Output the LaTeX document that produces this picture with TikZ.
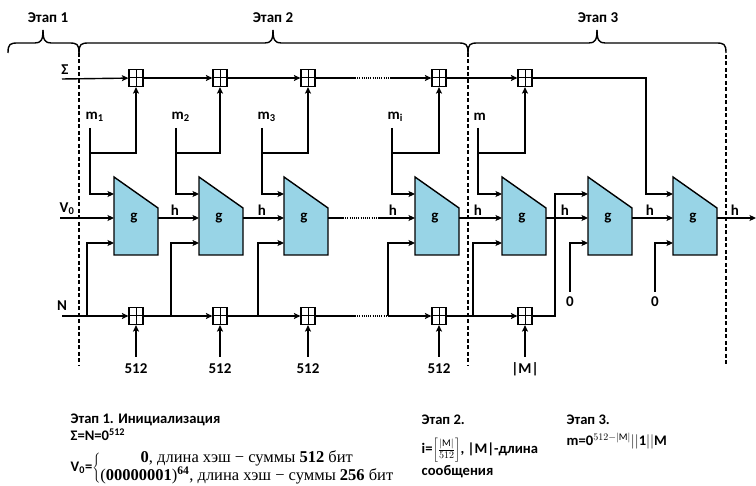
\documentclass[tikz,border=0pt]{standalone}
\usepackage{fontspec}
\setmainfont{Carlito}
\newfontfamily\serifcyr{Liberation Serif}
\usetikzlibrary{arrows.meta,calc}
\definecolor{gblue}{RGB}{152,212,230}
\begin{document}
\begin{tikzpicture}[x=1pt,y=-1pt,
  line width=1.4pt,
  arr/.style={-{Stealth[length=6.5pt,width=6pt,inset=1.5pt]}},
  lbl/.style={font=\bfseries\fontsize{15}{17}\selectfont, inner sep=0pt},
  txt/.style={font=\bfseries\fontsize{14.6}{17}\selectfont, inner sep=0pt, anchor=west},
  adder/.style={draw, line width=1.2pt, minimum width=14pt, minimum height=17pt, inner sep=0pt,
    path picture={\draw[line width=1pt] (path picture bounding box.north) -- (path picture bounding box.south)
      (path picture bounding box.west) -- (path picture bounding box.east);}},
  stagesep/.style={line width=1.1pt, dash pattern=on 4pt off 2.5pt},
  dotline/.style={line width=1.1pt, dash pattern=on 1pt off 1.2pt},
  bracestyle/.style={line width=1.4pt}
]
\useasboundingbox (0,0) rectangle (756,486);

% stage labels and braces
\node[lbl] (e1) at (48,18) {Этап 1};
\node[lbl] (e2) at (273,18) {Этап 2};
\node[lbl] (e3) at (598,18) {Этап 3};
\foreach \a/\m/\b in {8/43/79, 79/273/468, 468/597/726}{
  \draw[bracestyle] (\a,53) .. controls (\a,44) and (\a+2,43) .. (\a+10,43) -- (\m-8,43)
    .. controls (\m-2,43) and (\m,40) .. (\m,30);
  \draw[bracestyle] (\b,53) .. controls (\b,44) and (\b-2,43) .. (\b-10,43) -- (\m+8,43)
    .. controls (\m+2,43) and (\m,40) .. (\m,30);
}
% stage separators
\draw[stagesep] (79,53) -- (79,366);
\draw[stagesep] (468,53) -- (468,366);
\draw[stagesep] (726,55) -- (726,366);

% g blocks
\foreach \k/\L in {1/114, 2/199, 3/284, 4/415, 5/502, 6/588, 7/673}{
  \filldraw[fill=gblue, line width=1.4pt] (\L,177) -- (\L+44,208) -- (\L+44,255) -- (\L,255) -- cycle;
  \node[lbl] (g\k) at (\L+20,218) {g};
  \coordinate (g\k-a) at (\L,194);
  \coordinate (g\k-b) at (\L,218);
  \coordinate (g\k-c) at (\L,243);
  \coordinate (g\k-o) at (\L+44,218);
}

% adders
\foreach \k/\X in {1/136, 2/220, 3/308, 4/439, 5/525}{
  \node[adder] (s\k) at (\X,78) {};
  \node[adder] (n\k) at (\X,316) {};
}

% input labels
\node[lbl] (sig) at (65,70) {Σ};
\node[lbl] (v0) at (67,209) {V\textsubscript{0}};
\node[lbl] (nn) at (62,306) {N};
\coordinate (sigstart) at (62,79);
\coordinate (v0start) at (60,218);
\coordinate (nstart) at (62,316);

% Sigma line
\draw[arr] (sigstart) -- (s1);
\draw[arr] (s1) -- (s2);
\draw[arr] (s2) -- (s3);
\coordinate (sd1) at (355,78);
\coordinate (sd2) at (391,78);
\draw (s3.east) -- (sd1);
\draw[dotline] (sd1) -- (sd2);
\draw[arr] (sd2) -- (s4);
\draw[arr] (s4) -- (s5);
\coordinate (sc7) at (646,78);
\draw[arr] (s5.east) -- (sc7) |- (g7-a);

% m inputs
\foreach \k/\X/\lab in {1/90/m\textsubscript{1}, 2/176/m\textsubscript{2}, 3/262/m\textsubscript{3}, 4/392/m\textsubscript{i}, 5/478/m}{
  \node[lbl, anchor=west] (m\k) at (\X-5,117) {\lab};
  \coordinate (mt\k) at (\X,128);
  \coordinate (mb\k) at (\X,153);
  \draw[arr] (mt\k) |- (g\k-a);
  \draw[arr] (mb\k) -| (s\k.south);
}

% h chain
\draw[arr] (v0start) -- (g1-b);
\draw[arr] (g1-o) -- (g2-b);
\draw[arr] (g2-o) -- (g3-b);
\coordinate (hd1) at (343,218);
\coordinate (hd2) at (378,218);
\draw (g3-o) -- (hd1);
\draw[dotline] (hd1) -- (hd2);
\draw[arr] (hd2) -- (g4-b);
\draw[arr] (g4-o) -- (g5-b);
\draw[arr] (g5-o) -- (g6-b);
\draw[arr] (g6-o) -- (g7-b);
\coordinate (hout) at (756,218);
\draw[arr] (g7-o) -- (hout);
\foreach \X/\n in {175/1, 262/2, 393/3, 478/4, 565/5, 650/6, 735/7}{
  \node[lbl] (h\n) at (\X,210) {h};
}

% N line
\draw[arr] (nstart) -- (n1);
\draw[arr] (n1) -- (n2);
\draw[arr] (n2) -- (n3);
\coordinate (nd1) at (355,316);
\coordinate (nd2) at (388,316);
\draw (n3.east) -- (nd1);
\draw[dotline] (nd1) -- (nd2);
\draw[arr] (nd2) -- (n4);
\draw[arr] (n4) -- (n5);
\coordinate (nc6) at (555,316);
\draw[arr] (n5.east) -- (nc6) |- (g6-a);

% bottom inputs of g from N line
\foreach \k/\X in {1/87, 2/171, 3/258, 4/388, 5/473}{
  \coordinate (b\k) at (\X,316);
  \draw[arr] (b\k) |- (g\k-c);
}
% zero inputs
\node[lbl] (z6) at (570,302) {0};
\node[lbl] (z7) at (655,302) {0};
\coordinate (zt6) at (570,292);
\coordinate (zt7) at (655,292);
\draw[arr] (zt6) |- (g6-c);
\draw[arr] (zt7) |- (g7-c);

% adder inputs below N line
\foreach \k/\X/\lab in {1/136/512, 2/220/512, 3/308/512, 4/439/512, 5/525/|M|}{
  \node[lbl] (p\k) at (\X,369) {\lab};
  \coordinate (pt\k) at (\X,357);
  \draw[arr] (pt\k) -- (n\k.south);
}

% bottom text
\node[txt] (t1) at (70,420) {Этап 1. Инициализация};
\node[txt] (t2) at (70,435) {Σ=N=0\textsuperscript{512}};
\node[txt] (t3) at (70,468) {V\textsubscript{0}=$\delimiterfactor=780\left\{\renewcommand\arraystretch{0.85}\begin{array}{@{}c@{}}
  \mbox{\serifcyr\mdseries\fontsize{16.5}{18}\selectfont\textbf{0}, длина хэш − суммы \textbf{512} бит}\\
  \mbox{\serifcyr\mdseries\fontsize{16.5}{18}\selectfont(\textbf{00000001})\textsuperscript{\textbf{64}}, длина хэш − суммы \textbf{256} бит}
  \end{array}\right.$};
\node[txt] (t4) at (421,420) {Этап 2.};
\node[txt] (t5) at (421,450) {i=$\left[\frac{|\mathrm{M}|}{512}\right]$, |M|-длина};
\node[txt] (t6) at (421,472) {сообщения};
\node[txt] (t7) at (566,420) {Этап 3.};
\node[txt] (t8) at (566,441) {m=0$^{512-|\mathrm{M}|}\big|\big|\mathbf{1}\big|\big|\mathbf{M}$};
\end{tikzpicture}
\end{document}
